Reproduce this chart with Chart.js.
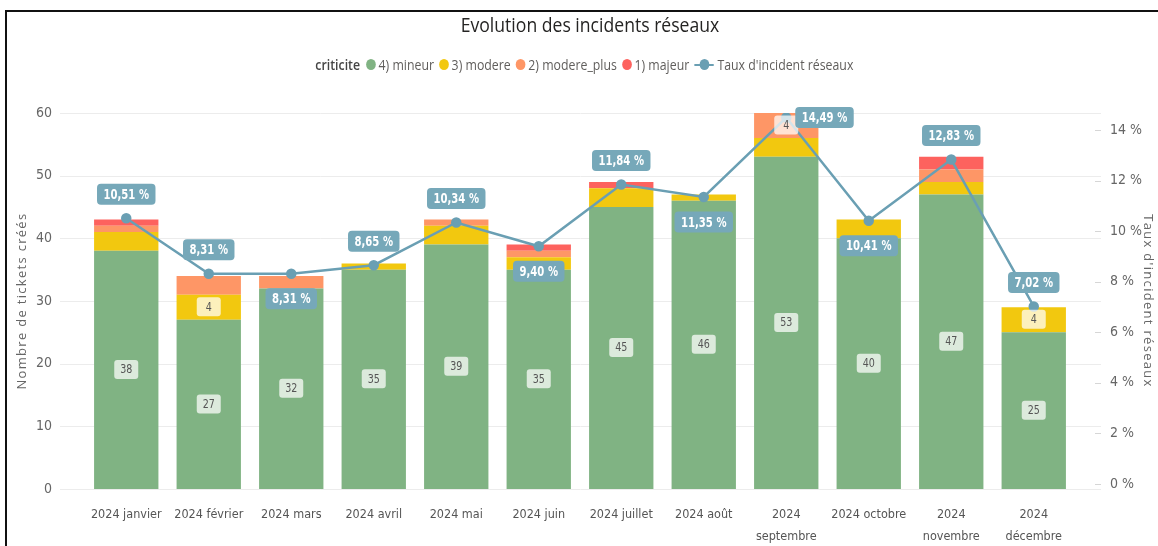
<!DOCTYPE html>
<html>
<head>
<meta charset="utf-8">
<script src="https://cdn.jsdelivr.net/npm/chart.js@4.4.1/dist/chart.umd.min.js"></script>
<style>
  html, body { margin: 0; padding: 0; background: #fff; }
  #wrap { position: relative; width: 1158px; height: 546px; overflow: hidden; }
  #frame { position: absolute; left: 5px; top: 10px; width: 1160px; height: 545px; border: 2px solid #111; box-sizing: border-box; }
  #title { position: absolute; left: 11px; width: 1158px; top: 11px; text-align: center; font-family: "Open Sans", sans-serif; font-size: 20px; color: #252423; transform: scaleX(0.88); }
  #legend { position: absolute; left: 8px; width: 1158px; top: 55px; display: flex; justify-content: center; align-items: center; font-family: "Open Sans", sans-serif; font-size: 14px; color: #605e5c; transform: scaleX(0.88); }
  #legend b { color: #444; font-weight: 600; margin-right: 7px; }
  #legend .it { display: flex; align-items: center; margin-right: 6px; }
  #legend .dot { width: 11px; height: 11px; border-radius: 50%; margin-right: 3px; }
  #legend .ln { position: relative; width: 22px; height: 11px; margin-right: 4px; }
  #legend .ln:before { content: ""; position: absolute; left: 0; right: 0; top: 4.5px; height: 2px; background: #6a9fb3; }
  #legend .ln:after { content: ""; position: absolute; left: 5.5px; top: 0; width: 11px; height: 11px; border-radius: 50%; background: #6a9fb3; }
  canvas { position: absolute; left: 0; top: 0; }
</style>
</head>
<body>
<div id="wrap">
  <canvas id="chart" width="1158" height="546"></canvas>
  <div id="frame"></div>
  <div id="title">Evolution des incidents réseaux</div>
  <div id="legend"></div>
</div>
<script>
const months = [
  "2024 janvier", "2024 février", "2024 mars", "2024 avril", "2024 mai", "2024 juin",
  "2024 juillet", "2024 août", ["2024", "septembre"], "2024 octobre", ["2024", "novembre"], ["2024", "décembre"]
];
const mineur      = [38, 27, 32, 35, 39, 35, 45, 46, 53, 40, 47, 25];
const modere      = [3, 4, 0, 1, 3, 2, 3, 1, 3, 3, 2, 4];
const moderePlus  = [1, 3, 2, 0, 1, 1, 0, 0, 4, 0, 2, 0];
const majeur      = [1, 0, 0, 0, 0, 1, 1, 0, 0, 0, 2, 0];
const tauxIncident = [10.51, 8.31, 8.31, 8.65, 10.34, 9.40, 11.84, 11.35, 14.49, 10.41, 12.83, 7.02];
// where each rate label sits relative to its point
const tauxLabelPos = ["up", "up", "down", "up", "up", "down", "up", "down", "right", "down", "up", "up"];
const leftTicks = [0, 10, 20, 30, 40, 50, 60];

const colors = {
  mineur: "#80b383",
  modere: "#f2c80f",
  moderePlus: "#fe9666",
  majeur: "#fd625e",
  taux: "#6a9fb3"
};

const numFont = '"Liberation Sans Narrow", "DejaVu Sans Condensed", sans-serif';

// html legend
const legendItems = [
  ["4) mineur", colors.mineur], ["3) modere", colors.modere],
  ["2) modere_plus", colors.moderePlus], ["1) majeur", colors.majeur]
];
let lg = '<b>criticite</b>';
legendItems.forEach(([t, c]) => {
  lg += `<span class="it"><span class="dot" style="background:${c}"></span>${t}</span>`;
});
lg += '<span class="it"><span class="ln"></span>Taux d\'incident réseaux</span>';
document.getElementById("legend").innerHTML = lg;

function roundBox(ctx, x, y, w, h, r, fill) {
  ctx.beginPath();
  ctx.roundRect(x, y, w, h, r);
  ctx.fillStyle = fill;
  ctx.fill();
}

// text squeezed horizontally to mimic the condensed label font
function narrowText(ctx, txt, x, y, sx) {
  ctx.save();
  ctx.translate(x, y);
  ctx.scale(sx, 1);
  ctx.fillText(txt, 0, 0);
  ctx.restore();
}

// axis titles in the reference are letter-spaced
function spacedTitle(s) {
  if (s._spaced) return;
  s._spaced = true;
  const orig = s.drawTitle;
  s.drawTitle = function () {
    this.ctx.save();
    this.ctx.letterSpacing = "1.3px";
    orig.apply(this, arguments);
    this.ctx.restore();
  };
}

const gridPlugin = {
  id: "extGrid",
  beforeDatasetsDraw(chart) {
    const { ctx, chartArea, scales } = chart;
    ctx.save();
    ctx.strokeStyle = "#ececec";
    ctx.lineWidth = 1;
    scales.y.ticks.forEach(t => {
      const y = Math.round(scales.y.getPixelForValue(t.value)) + 0.5;
      ctx.beginPath();
      ctx.moveTo(chartArea.left - 25, y);
      ctx.lineTo(chartArea.right + 26, y);
      ctx.stroke();
    });
    ctx.strokeStyle = "#d6d6d6";
    scales.y1.ticks.forEach(t => {
      const y = Math.round(scales.y1.getPixelForValue(t.value)) + 0.5;
      ctx.beginPath();
      ctx.moveTo(chartArea.right + 20, y);
      ctx.lineTo(chartArea.right + 26, y);
      ctx.stroke();
    });
    ctx.restore();
  }
};

const labelPlugin = {
  id: "valueLabels",
  afterDatasetsDraw(chart) {
    const { ctx } = chart;
    ctx.save();
    ctx.textAlign = "center";
    ctx.textBaseline = "middle";
    // bar segment labels
    ctx.font = "12.5px " + numFont;
    chart.data.datasets.forEach((ds, di) => {
      if (ds.type !== "bar") return;
      chart.getDatasetMeta(di).data.forEach((el, i) => {
        const v = ds.data[i];
        if (v < 4) return;
        const cy = (el.y + el.base) / 2;
        const w = 24;
        roundBox(ctx, el.x - w / 2, cy - 10, w, 19, 3, "rgba(255,255,255,0.72)");
        ctx.fillStyle = "#555";
        narrowText(ctx, String(v), el.x, cy, 0.85);
      });
    });
    // rate labels
    const li = chart.data.datasets.findIndex(d => d.type === "line");
    ctx.font = "bold 14px " + numFont;
    chart.getDatasetMeta(li).data.forEach((pt, i) => {
      const txt = tauxIncident[i].toFixed(2).replace(".", ",") + " %";
      const w = ctx.measureText(txt).width * 0.8 + 13;
      const h = 21;
      let cx = pt.x, cy = pt.y - 24;
      if (tauxLabelPos[i] === "down") cy = pt.y + 25;
      if (tauxLabelPos[i] === "right") { cx = pt.x + 9 + w / 2; cy = pt.y; }
      roundBox(ctx, cx - w / 2, cy - h / 2, w, h, 4, "#76a8b9");
      ctx.fillStyle = "#fff";
      narrowText(ctx, txt, cx, cy + 1, 0.8);
    });
    ctx.restore();
  }
};

function barSet(label, data, color) {
  return {
    type: "bar", label, data, backgroundColor: color,
    yAxisID: "y", order: 1, stack: "s",
    barPercentage: 0.78, categoryPercentage: 1.0
  };
}

new Chart(document.getElementById("chart"), {
  data: {
    labels: months,
    datasets: [
      {
        type: "line", label: "Taux d'incident réseaux", data: tauxIncident,
        yAxisID: "y1", order: 0,
        borderColor: colors.taux, backgroundColor: colors.taux,
        borderWidth: 2.5, pointRadius: 4, pointHoverRadius: 4, tension: 0
      },
      barSet("4) mineur", mineur, colors.mineur),
      barSet("3) modere", modere, colors.modere),
      barSet("2) modere_plus", moderePlus, colors.moderePlus),
      barSet("1) majeur", majeur, colors.majeur)
    ]
  },
  options: {
    responsive: false,
    animation: false,
    layout: { padding: { top: 113, left: 14, right: 2, bottom: 0 } },
    plugins: { legend: { display: false }, tooltip: { enabled: false } },
    scales: {
      x: {
        stacked: true,
        afterFit: s => { s.height = 57; },
        grid: { display: false, drawTicks: false },
        border: { display: false },
        ticks: {
          color: "#555", padding: 15, maxRotation: 0, autoSkip: false,
          font: { family: numFont, size: 12.5, lineHeight: 1.72 }
        }
      },
      y: {
        stacked: true, position: "left", min: 0, max: 60,
        afterBuildTicks: s => { s.ticks = leftTicks.map(v => ({ value: v })); },
        afterFit: s => { s.width = 71; spacedTitle(s); },
        grid: { display: false, drawTicks: false },
        border: { display: false },
        ticks: { color: "#666", padding: 33, font: { family: numFont, size: 14 } },
        title: {
          display: true, text: "Nombre de tickets créés", color: "#666",
          font: { family: '"Open Sans", sans-serif', size: 13 }, padding: 0
        }
      },
      y1: {
        position: "right", min: -0.2, max: 14.67,
        afterFit: s => { s.width = 81; spacedTitle(s); },
        grid: { display: false, drawTicks: false },
        border: { display: false },
        ticks: {
          stepSize: 2, includeBounds: false, color: "#666", padding: 35,
          font: { family: numFont, size: 14 },
          callback: v => v + " %"
        },
        title: {
          display: true, text: "Taux d'incident réseaux", color: "#666",
          font: { family: '"Open Sans", sans-serif', size: 13 }, padding: 0
        }
      }
    }
  },
  plugins: [gridPlugin, labelPlugin]
});
</script>
</body>
</html>
